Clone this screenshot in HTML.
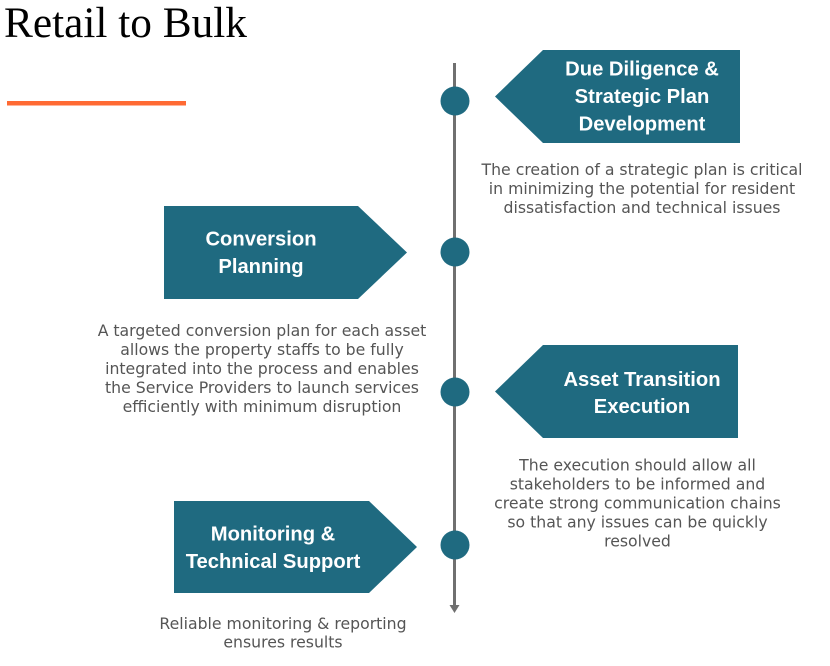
<!DOCTYPE html>
<html>
<head>
<meta charset="utf-8">
<style>
  html, body { margin:0; padding:0; background:#ffffff; }
  body { width:830px; height:666px; overflow:hidden; }
  svg { display:block; }
  .h { font-family:"Liberation Sans", sans-serif; font-weight:bold; font-size:20.2px; fill:#ffffff; text-anchor:middle; }
  .d { font-family:"DejaVu Sans", "Liberation Sans", sans-serif; font-size:15.7px; fill:#555555; text-anchor:middle; }
</style>
</head>
<body>
<svg width="830" height="666" viewBox="0 0 830 666" xmlns="http://www.w3.org/2000/svg">
  <!-- Title -->
  <text x="4" y="37" font-family="'Liberation Serif', serif" font-size="43.3" fill="#000">Retail to Bulk</text>
  <rect x="7" y="101" width="179" height="4.5" fill="#ff6a33"/>

  <!-- Timeline -->
  <rect x="453" y="63" width="3" height="544" fill="#707070"/>
  <polygon points="449.5,605 459.5,605 454.5,613" fill="#707070"/>

  <!-- Circles -->
  <circle cx="455" cy="101" r="14.5" fill="#1f6a80"/>
  <circle cx="455" cy="252" r="14.5" fill="#1f6a80"/>
  <circle cx="455" cy="392" r="14.5" fill="#1f6a80"/>
  <circle cx="455" cy="545" r="14.5" fill="#1f6a80"/>

  <!-- Box 1 -->
  <polygon points="495,96.5 543,50 740,50 740,143 543,143" fill="#1f6a80"/>
  <text class="h" x="642" y="75.7">Due Diligence &amp;</text>
  <text class="h" x="642" y="103">Strategic Plan</text>
  <text class="h" x="642" y="130.5">Development</text>
  <text class="d" x="642" y="175">The creation of a strategic plan is critical</text>
  <text class="d" x="642" y="194">in minimizing the potential for resident</text>
  <text class="d" x="642" y="213">dissatisfaction and technical issues</text>

  <!-- Box 2 -->
  <polygon points="164,206 358,206 407,252.5 358,299 164,299" fill="#1f6a80"/>
  <text class="h" x="261" y="245.5">Conversion</text>
  <text class="h" x="261" y="273">Planning</text>
  <text class="d" x="262" y="336">A targeted conversion plan for each asset</text>
  <text class="d" x="262" y="355">allows the property staffs to be fully</text>
  <text class="d" x="262" y="374">integrated into the process and enables</text>
  <text class="d" x="262" y="393">the Service Providers to launch services</text>
  <text class="d" x="262" y="412">efficiently with minimum disruption</text>

  <!-- Box 3 -->
  <polygon points="495,391.5 543,345 738,345 738,438 543,438" fill="#1f6a80"/>
  <text class="h" x="642" y="386">Asset Transition</text>
  <text class="h" x="642" y="413">Execution</text>
  <text class="d" x="637.5" y="470.5">The execution should allow all</text>
  <text class="d" x="637.5" y="489.5">stakeholders to be informed and</text>
  <text class="d" x="637.5" y="508.5">create strong communication chains</text>
  <text class="d" x="637.5" y="527.5">so that any issues can be quickly</text>
  <text class="d" x="637.5" y="546.5">resolved</text>

  <!-- Box 4 -->
  <polygon points="174,501 369,501 417,547 369,593 174,593" fill="#1f6a80"/>
  <text class="h" x="273" y="540.7">Monitoring &amp;</text>
  <text class="h" x="273" y="568">Technical Support</text>
  <text class="d" x="283" y="629">Reliable monitoring &amp; reporting</text>
  <text class="d" x="283" y="647.5">ensures results</text>
</svg>
</body>
</html>
